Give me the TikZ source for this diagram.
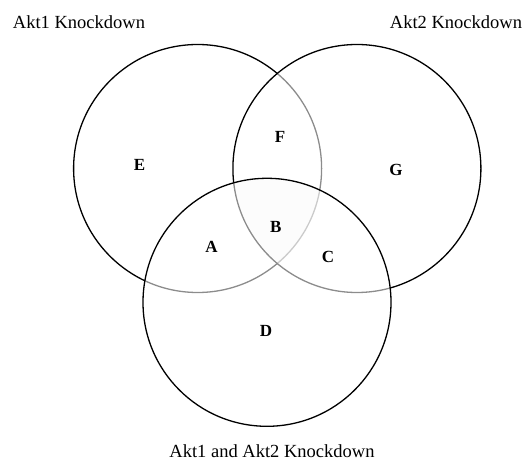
\documentclass[tikz,border=0pt]{standalone}
\usepackage{fontspec}
\setmainfont{Liberation Serif}
\begin{document}
\begin{tikzpicture}[x=1pt,y=-1pt,
  vcirc/.style={circle,draw=black,line width=1.3pt,minimum size=248pt,inner sep=0pt},
  vfill/.style={fill=white,fill opacity=0.55},
  region/.style={font=\fontsize{17}{19}\selectfont\bfseries},
  title/.style={font=\fontsize{18.5}{20}\selectfont}]
\useasboundingbox (0,0) rectangle (525,462);
\coordinate (c1) at (197.6,168.5);
\coordinate (c2) at (356.9,168.5);
\coordinate (c3) at (267,302.3);
% triple intersection shading
\begin{scope}
  \clip (c1) circle (124);
  \clip (c2) circle (124);
  \fill[black!4] (c3) circle (124);
\end{scope}
\node[vcirc] (k1) at (c1) {};
\node[vcirc,vfill] (k2) at (c2) {};
\node[vcirc,vfill] (k3) at (c3) {};
\node[title] (t1) at (79,21.8) {Akt1 Knockdown};
\node[title] (t2) at (456,21.8) {Akt2 Knockdown};
\node[title] (t3) at (272,451) {Akt1 and Akt2 Knockdown};
\node[region] (E) at (139.6,165) {E};
\node[region] (F) at (280,137) {F};
\node[region] (G) at (396,169.5) {G};
\node[region] (A) at (211.4,246.6) {A};
\node[region] (B) at (275.8,226.8) {B};
\node[region] (C) at (328,256.7) {C};
\node[region] (D) at (266,330.5) {D};
\end{tikzpicture}
\end{document}
